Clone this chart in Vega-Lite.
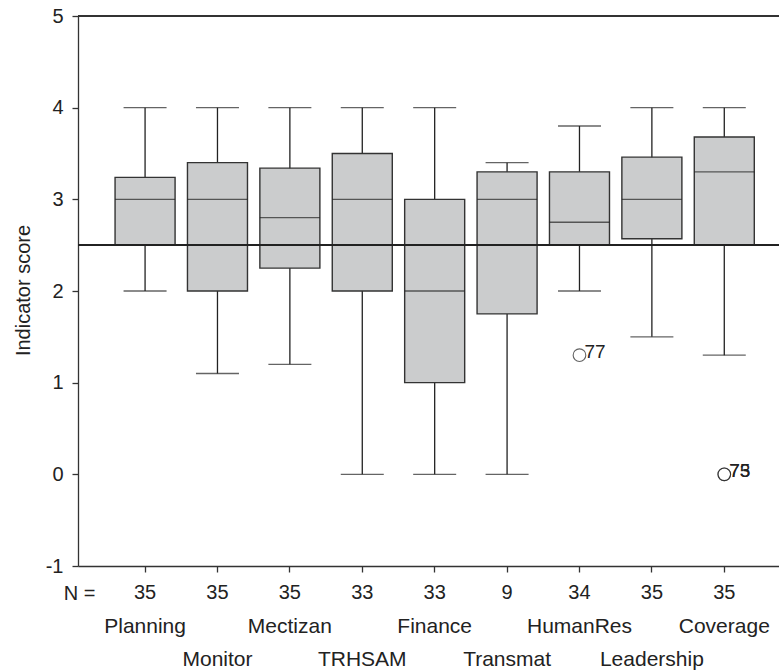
{
  "$schema": "https://vega.github.io/schema/vega-lite/v6.json",
  "autosize": {"type": "none"},
  "padding": {"left": 78, "top": 16, "right": 0, "bottom": 105},
  "width": 701,
  "height": 550,
  "background": "white",
  "config": {
    "view": {"stroke": null},
    "font": "Liberation Sans",
    "axis": {"grid": false, "domainColor": "#333333", "tickColor": "#333333", "labelColor": "#222222", "titleColor": "#222222", "domainWidth": 1.3, "tickWidth": 1.3, "tickSize": 6}
  },
  "datasets": {
    "boxes": [
      {"cat": "Planning", "n": 35, "lo": 2.0, "q1": 2.5, "med": 3.0, "q3": 3.24, "hi": 4.0},
      {"cat": "Monitor", "n": 35, "lo": 1.1, "q1": 2.0, "med": 3.0, "q3": 3.4, "hi": 4.0},
      {"cat": "Mectizan", "n": 35, "lo": 1.2, "q1": 2.25, "med": 2.8, "q3": 3.34, "hi": 4.0},
      {"cat": "TRHSAM", "n": 33, "lo": 0.0, "q1": 2.0, "med": 3.0, "q3": 3.5, "hi": 4.0},
      {"cat": "Finance", "n": 33, "lo": 0.0, "q1": 1.0, "med": 2.0, "q3": 3.0, "hi": 4.0},
      {"cat": "Transmat", "n": 9, "lo": 0.0, "q1": 1.75, "med": 3.0, "q3": 3.3, "hi": 3.4},
      {"cat": "HumanRes", "n": 34, "lo": 2.0, "q1": 2.5, "med": 2.75, "q3": 3.3, "hi": 3.8},
      {"cat": "Leadership", "n": 35, "lo": 1.5, "q1": 2.57, "med": 3.0, "q3": 3.46, "hi": 4.0},
      {"cat": "Coverage", "n": 35, "lo": 1.3, "q1": 2.5, "med": 3.3, "q3": 3.68, "hi": 4.0}
    ],
    "outliers": [
      {"cat": "HumanRes", "value": 1.3, "label": "77"},
      {"cat": "Coverage", "value": 0.0, "label": "73"},
      {"cat": "Coverage", "value": 0.0, "label": "75"}
    ]
  },
  "data": {"name": "boxes"},
  "encoding": {
    "x": {
      "field": "cat", "type": "nominal", "sort": null,
      "scale": {"type": "band", "paddingInner": 0.171, "paddingOuter": 0.4266, "align": 0.6},
      "axis": {
        "title": "N =", "titleFontSize": 20, "titleFontWeight": "normal",
        "titleX": 1, "titleY": 27, "titleAlign": "center", "titleBaseline": "middle", "titleAnchor": null,
        "labelAngle": 0, "labelFontSize": 21, "labelPadding": 43, "labelBaseline": "top",
        "labelOverlap": false, "labelBound": false, "labelLineHeight": 33,
        "labelExpr": "round(datum.index * 8) % 2 == 0 ? datum.label : ['', datum.label]"
      }
    }
  },
  "layer": [
    {
      "mark": {"type": "rule", "color": "#222222", "strokeWidth": 1.3},
      "encoding": {
        "y": {"field": "lo", "type": "quantitative",
          "scale": {"domain": [-1, 5], "nice": false, "zero": false},
          "axis": {"title": "Indicator score", "titleFontSize": 20, "titleFontWeight": "normal",
            "titleAngle": 270, "titleX": -49, "titleY": 274, "titleAlign": "center", "titleBaseline": "alphabetic", "titleAnchor": null,
            "values": [-1, 0, 1, 2, 3, 4, 5], "labelExpr": "toString(datum.value)", "labelFontSize": 20, "labelPadding": 9}},
        "y2": {"field": "hi"}
      }
    },
    {
      "mark": {"type": "bar", "fill": "#cbcccd", "stroke": "#333333", "strokeWidth": 1.4},
      "encoding": {
        "y": {"field": "q1", "type": "quantitative"},
        "y2": {"field": "q3"}
      }
    },
    {
      "mark": {"type": "tick", "color": "#222222", "size": 60, "thickness": 1.4},
      "encoding": {"y": {"field": "med", "type": "quantitative"}}
    },
    {
      "mark": {"type": "tick", "color": "#222222", "size": 43, "thickness": 1.4},
      "encoding": {"y": {"field": "hi", "type": "quantitative"}}
    },
    {
      "mark": {"type": "tick", "color": "#222222", "size": 43, "thickness": 1.4},
      "encoding": {"y": {"field": "lo", "type": "quantitative"}}
    },
    {
      "mark": {"type": "rule", "color": "#222222", "strokeWidth": 1.2},
      "encoding": {"y": {"datum": 2.5}, "x": null}
    },
    {
      "mark": {"type": "rule", "color": "#333333", "strokeWidth": 1.3},
      "encoding": {"y": {"datum": 5}, "x": null}
    },
    {
      "mark": {"type": "text", "fontSize": 20, "color": "#222222", "baseline": "middle", "dy": 27, "clip": false},
      "encoding": {"y": {"datum": -1}, "text": {"field": "n", "type": "quantitative"}}
    },
    {
      "data": {"name": "outliers"},
      "mark": {"type": "point", "shape": "circle", "filled": false, "color": "#222222", "size": 160, "strokeWidth": 1.1},
      "encoding": {"y": {"field": "value", "type": "quantitative"}}
    },
    {
      "data": {"name": "outliers"},
      "mark": {"type": "text", "fontSize": 19, "color": "#222222", "align": "left", "baseline": "middle", "dx": 5, "dy": -3},
      "encoding": {"y": {"field": "value", "type": "quantitative"}, "text": {"field": "label"}}
    }
  ]
}
